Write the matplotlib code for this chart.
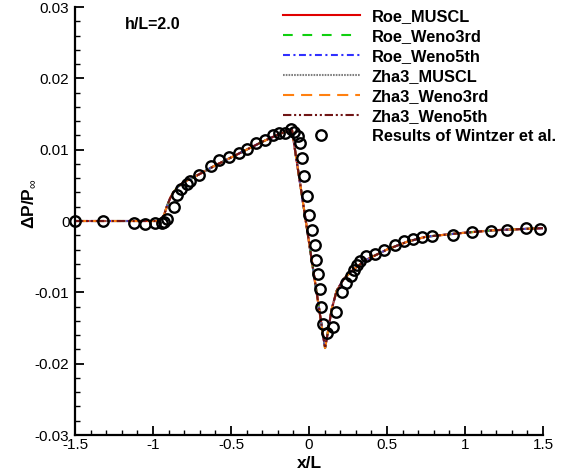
import numpy as np
import matplotlib
matplotlib.use('Agg')
import matplotlib.pyplot as plt
from matplotlib.ticker import MultipleLocator, FormatStrFormatter

plt.rcParams['font.family'] = ['Liberation Sans', 'DejaVu Sans']
plt.rcParams['axes.unicode_minus'] = False
plt.rcParams['lines.scale_dashes'] = False
plt.rcParams['mathtext.fontset'] = 'custom'
plt.rcParams['mathtext.rm'] = 'Liberation Sans'
plt.rcParams['mathtext.bf'] = 'Liberation Sans:bold'

# computed pressure signature (all six schemes collapse onto this curve)
x_cfd = [-1.5, -0.96, -0.93, -0.91, -0.89, -0.87, -0.84, -0.8, -0.75, -0.7,
         -0.6, -0.5, -0.4, -0.3, -0.2, -0.14, -0.11, 0.103, 0.124, 0.145,
         0.177, 0.22, 0.284, 0.37, 0.5, 0.63, 0.75, 0.97, 1.18, 1.5]
dp_cfd = [0.0, 0.0, 0.0008, 0.0021, 0.0032, 0.0040, 0.0048, 0.0055, 0.0060, 0.0066,
          0.0078, 0.0089, 0.0100, 0.0111, 0.0121, 0.0126, 0.0129, -0.0178, -0.0152, -0.0124,
          -0.0098, -0.0082, -0.0068, -0.0054, -0.0040, -0.0029, -0.0022, -0.0017, -0.0013, -0.0010]

schemes = ['Roe_MUSCL', 'Roe_Weno3rd', 'Roe_Weno5th',
           'Zha3_MUSCL', 'Zha3_Weno3rd', 'Zha3_Weno5th']
colors = ['#e00000', '#10d010', '#3030ff', '#808080', '#ff8010', '#701515']
dashes = [None, (7, 7), (5, 2.5, 1.5, 2.5), (1.2, 0.8), (8, 5), (6, 2, 1.5, 2, 1.5, 2)]

# Wintzer et al. reference data
x_ref = [-1.5, -1.32, -1.12, -1.05, -0.99, -0.945, -0.928, -0.912, -0.867, -0.848,
         -0.822, -0.784, -0.763, -0.705, -0.628, -0.575, -0.511, -0.449, -0.399, -0.34,
         -0.28, -0.229, -0.19, -0.156, -0.115, -0.095, -0.072, -0.058, -0.047, -0.031,
         -0.015, 0.002, 0.017, 0.038, 0.045, 0.06, 0.071, 0.077, 0.092, 0.113,
         0.156, 0.173, 0.209, 0.237, 0.267, 0.288, 0.31, 0.327, 0.365, 0.423,
         0.481, 0.551, 0.609, 0.665, 0.726, 0.788, 0.925, 1.043, 1.165, 1.271,
         1.389, 1.481]
dp_ref = [0.0, 0.0, -0.0003, -0.0004, -0.0003, -0.0003, -0.0001, 0.0003, 0.0019, 0.0036,
          0.0045, 0.0052, 0.0056, 0.0065, 0.0077, 0.0085, 0.0090, 0.0096, 0.0101, 0.0109,
          0.0114, 0.0120, 0.0123, 0.0124, 0.0129, 0.0125, 0.0119, 0.0110, 0.0089, 0.0063,
          0.0035, 0.0009, -0.0012, -0.0034, -0.0054, -0.0074, -0.0096, -0.0120, -0.0145, -0.0157,
          -0.0148, -0.0127, -0.0100, -0.0087, -0.0077, -0.0069, -0.0062, -0.0056, -0.0049, -0.0046,
          -0.0041, -0.0034, -0.0028, -0.0025, -0.0023, -0.0021, -0.0019, -0.0016, -0.0014, -0.0012,
          -0.0010, -0.0011]

fig = plt.figure(figsize=(5.69, 4.73), dpi=100)
ax = fig.add_axes([0.1318, 0.0803, 0.8225, 0.9049])

for name, c, d in zip(schemes, colors, dashes):
    line, = ax.plot(x_cfd, dp_cfd, color=c, lw=1.5, label=name)
    if d is not None:
        line.set_dashes(d)

ax.plot(x_ref, dp_ref, 'o', mfc='none', mec='black', ms=7.5, mew=1.7,
        clip_on=False, label='Results of Wintzer et al.')

ax.set_xlim(-1.5, 1.5)
ax.set_ylim(-0.03, 0.03)
ax.xaxis.set_major_locator(MultipleLocator(0.5))
ax.xaxis.set_minor_locator(MultipleLocator(0.1))
ax.yaxis.set_major_locator(MultipleLocator(0.01))
ax.yaxis.set_minor_locator(MultipleLocator(0.002))
ax.xaxis.set_major_formatter(FormatStrFormatter('%g'))
ax.yaxis.set_major_formatter(plt.FuncFormatter(lambda v, p: '%g' % round(v, 4)))

ax.spines['top'].set_visible(False)
ax.spines['right'].set_visible(False)
for s in ['left', 'bottom']:
    ax.spines[s].set_linewidth(1.6)
ax.tick_params(which='major', direction='in', length=6.5, width=1.3, labelsize=11)
ax.tick_params(which='minor', direction='in', length=3.6, width=1.0)
ax.tick_params(axis='x', pad=2)
ax.tick_params(axis='y', pad=4)

ax.set_xlabel('x/L', fontsize=12.5, fontweight='bold')
ax.xaxis.set_label_coords(0.5, -0.05)
ax.set_ylabel(r'$\mathbf{\Delta P/P}_{\infty}$', fontsize=12.5)
ax.yaxis.set_label_coords(-0.082, 0.54)

ax.text(-1.0, 0.0275, 'h/L=2.0', fontsize=11.5, fontweight='bold',
        ha='center', va='center')

leg = ax.legend(loc='upper left', bbox_to_anchor=(0.444, 0.995), frameon=False,
                fontsize=11.8, handlelength=4.7, handletextpad=0.73,
                labelspacing=0.3, borderpad=0, borderaxespad=0, numpoints=1)
for t in leg.get_texts():
    t.set_fontweight('bold')

fig.savefig('out.png', dpi=100)
